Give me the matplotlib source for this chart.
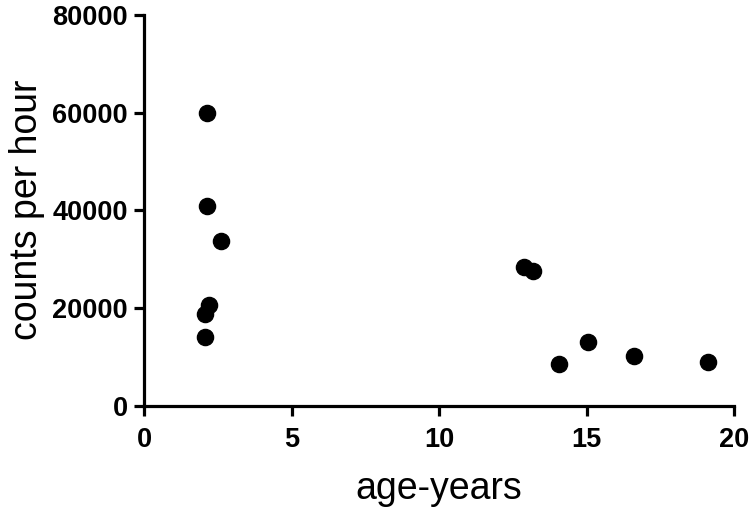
import matplotlib
matplotlib.use("Agg")
import matplotlib.pyplot as plt

# age (years) vs counts per hour
age_years = [2.14, 2.14, 2.61, 2.2, 2.07, 2.07, 12.87, 13.17, 14.06, 15.04, 16.6, 19.12]
counts_per_hour = [60000, 40900, 33700, 20600, 18700, 14000, 28400, 27600, 8500, 13000, 10200, 8900]

plt.rcParams["font.family"] = ["Liberation Sans", "DejaVu Sans"]

fig = plt.figure(figsize=(7.5, 5.09), dpi=100)
ax = fig.add_axes([0.192, 0.2033, 0.7867, 0.7672])

ax.scatter(age_years, counts_per_hour, s=135, color="black", zorder=3, clip_on=False)

ax.set_xlim(0, 20)
ax.set_ylim(0, 80000)
ax.set_xticks([0, 5, 10, 15, 20])
ax.set_yticks([0, 20000, 40000, 60000, 80000])

for side in ["top", "right"]:
    ax.spines[side].set_visible(False)
for side in ["left", "bottom"]:
    ax.spines[side].set_linewidth(2.3)

ax.tick_params(axis="both", direction="out", length=7.5, width=2.3, labelsize=19.5)
ax.tick_params(axis="x", pad=8)
ax.tick_params(axis="y", pad=4)
for lab in ax.get_xticklabels() + ax.get_yticklabels():
    lab.set_fontweight("bold")

ax.set_xlabel("age-years", fontsize=27, labelpad=13)
ax.set_ylabel("counts per hour", fontsize=27, labelpad=5)

fig.savefig("out.png", dpi=100)
